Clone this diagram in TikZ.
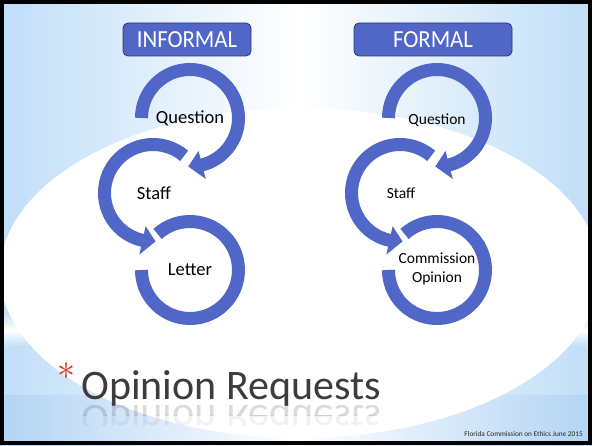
\documentclass[tikz,border=0pt]{standalone}
\usepackage{fontspec}
\setmainfont{Carlito}
\usetikzlibrary{calc}
\definecolor{cblue}{RGB}{80,103,200}
\definecolor{bgblue}{RGB}{192,222,248}
\definecolor{bgbluetwo}{RGB}{178,212,244}
\definecolor{boxedge}{RGB}{40,55,115}
\definecolor{titlegray}{RGB}{60,60,60}
\definecolor{starred}{RGB}{222,50,30}
\begin{document}
\begin{tikzpicture}[x=1pt,y=1pt,
  arcline/.style={draw=cblue, line width=13pt},
  headfill/.style={fill=cblue},
  hbox/.style={draw=boxedge, line width=0.8pt, fill=cblue, rounded corners=5pt,
    text=white, font=\fontsize{24.5}{24}\selectfont, minimum height=33pt, inner sep=0pt},
  lbig/.style={font=\fontsize{18.5}{20}\selectfont, text=black, inner sep=0pt},
  lsmall/.style={font=\fontsize{15.5}{19}\selectfont, text=black, inner sep=0pt, align=center},
  ttl/.style={font=\fontsize{42}{42}\selectfont, text=titlegray, inner sep=0pt, anchor=base west}]
\useasboundingbox (0,0) rectangle (592,445);
% ---------- background ----------
\begin{scope}
\clip (0,0) rectangle (592,445);
\shade[left color=bgblue, right color=bgblue, middle color=white] (0,50) rectangle (592,445);
\shade[top color=bgblue, bottom color=bgblue, middle color=white] (0,98) rectangle (592,132);
\shade[left color=bgbluetwo, right color=bgbluetwo, middle color=white] (0,0) rectangle (592,50);
\fill[white] (300,172) ellipse[x radius=300, y radius=165];
\end{scope}
% ---------- headers ----------
\node[hbox, minimum width=128pt] (inf) at (187,405.5) {\scalebox{0.93}[1]{INFORMAL}};
\node[hbox, minimum width=158pt] (frm) at (433,405.5) {\scalebox{0.93}[1]{FORMAL}};
% ---------- circular arrows ----------
\foreach \dx/\col in {0/L, 247/R} {
  \coordinate (qc\col) at (190+\dx,327);
  \coordinate (sc\col) at (153+\dx,252);
  \coordinate (lc\col) at (190+\dx,175);
  % question
  \draw[arcline] ($(qc\col)+(180:48.5)$) arc[start angle=180, end angle=-76, radius=48.5];
  \fill[headfill] ($(qc\col)+(-75.5:34)$) -- ($(qc\col)+(-75.5:63)$) -- ($(qc\col)+(-92:48.5)$) -- cycle;
  % staff
  \draw[arcline] ($(sc\col)+(50:48.5)$) arc[start angle=50, end angle=258, radius=48.5];
  \fill[headfill] ($(sc\col)+(257.5:34)$) -- ($(sc\col)+(257.5:63)$) -- ($(sc\col)+(273:48.5)$) -- cycle;
  % result
  \draw[arcline] ($(lc\col)+(132:48.5)$) arc[start angle=132, end angle=-180, radius=48.5];
}
% ---------- labels ----------
\node[lbig] (q1) at (190,327) {Question};
\node[lbig] (s1) at (154,252) {Staff};
\node[lbig] (l1) at (190,175) {Letter};
\node[lsmall] (q2) at (437,325) {Question};
\node[lsmall] (s2) at (401,252) {Staff};
\node[lsmall] (c2) at (437,176.5) {Commission\\Opinion};
% ---------- title ----------
\node[text=starred, inner sep=0pt] (star) at (66,74) {\scalebox{3.6}{$\ast$}};
\node[ttl] (title) at (81,46) {Opinion Requests};
\begin{scope}
\clip (0,30) rectangle (592,40);
\node[ttl, opacity=0.18] (reflA) at (81,40) {\scalebox{1}[-1]{Opinion Requests}};
\end{scope}
\begin{scope}
\clip (0,20) rectangle (592,30);
\node[ttl, opacity=0.07] (reflB) at (81,40) {\scalebox{1}[-1]{Opinion Requests}};
\end{scope}
\node[font=\fontsize{7.3}{8}\selectfont, text=black!85, inner sep=0pt, anchor=east] (foot) at (583,11) {Florida Commission on Ethics June 2015};
% ---------- frame ----------
\draw[black, line width=4pt] (2,2) rectangle (590,443);
\end{tikzpicture}
\end{document}
